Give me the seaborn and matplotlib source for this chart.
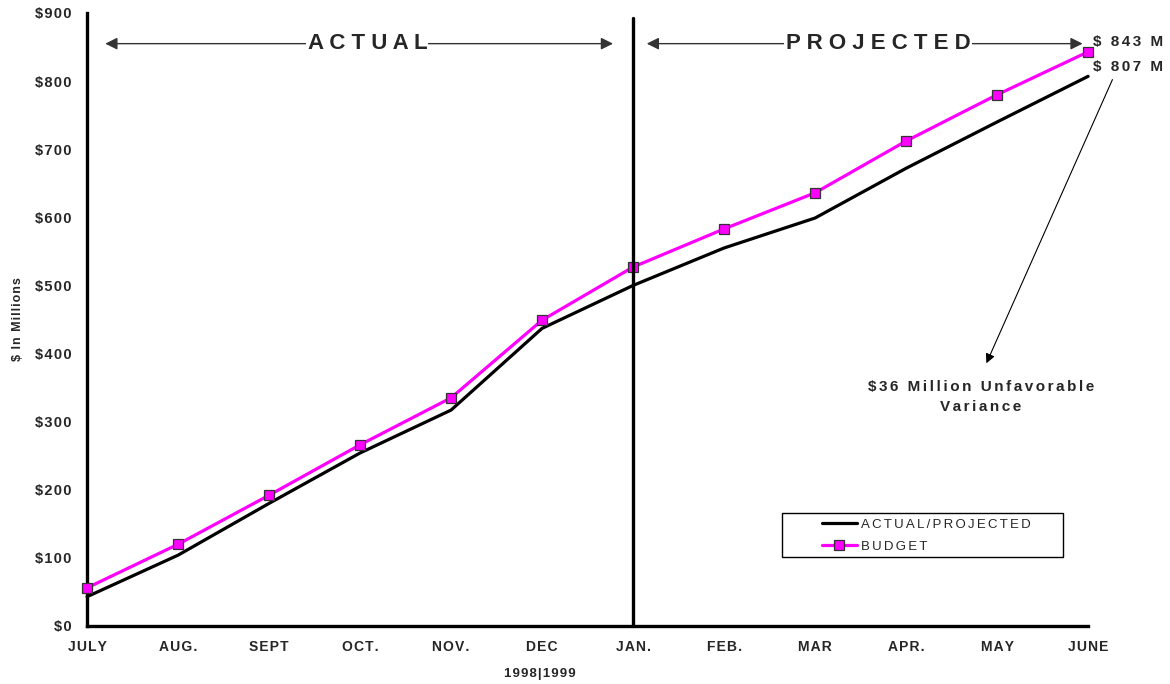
import matplotlib
matplotlib.use("Agg")
import matplotlib.pyplot as plt
from matplotlib.patches import Rectangle
import seaborn as sns
import pandas as pd

months = ["JULY", "AUG.", "SEPT", "OCT.", "NOV.", "DEC", "JAN.", "FEB.", "MAR", "APR.", "MAY", "JUNE"]
actual_projected = [43, 104, 180, 254, 317, 437, 500, 555, 599, 672, 740, 807]
budget = [56, 120, 192, 266, 335, 449, 527, 583, 636, 712, 780, 843]
y_ticks = [0, 100, 200, 300, 400, 500, 600, 700, 800, 900]
y_tick_labels = ["$0", "$100", "$200", "$300", "$400", "$500", "$600", "$700", "$800", "$900"]

sns.set_style("white")
plt.rcParams["font.family"] = ["Liberation Sans", "DejaVu Sans"]

HS = "\u200a"


def spaced(s, n=1):
    """Widen letter tracking with hair spaces."""
    return (HS * n).join(s)


df = pd.DataFrame({
    "idx": list(range(len(months))),
    "ACTUAL/PROJECTED": actual_projected,
    "BUDGET": budget,
})

fig = plt.figure(figsize=(11.7, 6.84), dpi=100)
ax = fig.add_axes([0.0744, 0.0848, 0.8556, 0.8962])

sns.lineplot(data=df, x="idx", y="ACTUAL/PROJECTED", ax=ax, color="black",
             linewidth=2.3, label=spaced("ACTUAL/PROJECTED", 2), zorder=3)
sns.lineplot(data=df, x="idx", y="BUDGET", ax=ax, color="#ff00ff",
             linewidth=2.3, marker="s", markersize=6.5, markerfacecolor="#ff00ff",
             markeredgecolor="#333333", markeredgewidth=0.9, label=spaced("BUDGET", 2), zorder=4)
for ln in ax.lines:
    ln.set_clip_on(False)

ax.set_xlim(0, len(months) - 1)
ax.set_ylim(0, 900)
ax.set_xticks(range(len(months)))
ax.set_xticklabels([spaced(m) for m in months], fontsize=10, fontweight="bold")
ax.set_yticks(y_ticks)
ax.set_yticklabels([spaced(t) for t in y_tick_labels], fontsize=10.5, fontweight="bold")
ax.tick_params(axis="x", direction="inout", length=8, width=2, pad=6)
ax.tick_params(axis="y", direction="in", length=5, width=2, pad=11)
for s in ["top", "right"]:
    ax.spines[s].set_visible(False)
for s in ["left", "bottom"]:
    ax.spines[s].set_linewidth(2.4)
    ax.spines[s].set_color("black")

ax.set_xlabel("")
ax.set_ylabel(spaced("$ In Millions"), fontsize=9, fontweight="bold", labelpad=8)
fig.text(540 / 1170, 1 - 674 / 684, spaced("1998|1999"), ha="center", va="center",
         fontsize=9.5, fontweight="bold")

# divider between actual and projected months
ax.plot([6, 6], [0, 893], color="black", linewidth=2.4, clip_on=False, zorder=5)

# period arrows
arrow_kw = dict(arrowstyle="<|-|>", color="#333333", lw=1.0, mutation_scale=18)
ax.annotate("", xy=(0.17, 855), xytext=(5.81, 855), arrowprops=arrow_kw)
ax.annotate("", xy=(6.12, 855), xytext=(10.97, 855), arrowprops=arrow_kw, annotation_clip=False)
ax.text(3.08, 855, "A C T U A L", ha="center", va="center", fontsize=16,
        fontweight="bold", bbox=dict(facecolor="white", edgecolor="none", pad=1), zorder=6)
ax.text(8.69, 855, "P R O J E C T E D", ha="center", va="center", fontsize=16,
        fontweight="bold", bbox=dict(facecolor="white", edgecolor="none", pad=1), zorder=6)

# end-point labels
ax.text(11.05, budget[-1] + 15, spaced(f"$ {budget[-1]} M", 2), ha="left", va="center",
        fontsize=11, fontweight="bold", clip_on=False)
ax.text(11.05, actual_projected[-1] + 13, spaced(f"$ {actual_projected[-1]} M", 2), ha="left",
        va="center", fontsize=11, fontweight="bold", clip_on=False)

# variance callout
variance = budget[-1] - actual_projected[-1]
ax.annotate("", xy=(9.87, 382), xytext=(11.28, 806),
            arrowprops=dict(arrowstyle="-|>", color="black", lw=0.8, mutation_scale=14),
            annotation_clip=False)
ax.text(9.82, 336, spaced(f"${variance} Million Unfavorable", 2) + "\n" + spaced("Variance", 2),
        ha="center", va="center", fontsize=11, fontweight="bold", linespacing=1.5)

# legend with a separate box frame
leg = ax.legend(loc="upper left", bbox_to_anchor=(819 / 1170, 1 - 515 / 684),
                bbox_transform=fig.transFigure, frameon=False, fontsize=9.5,
                handlelength=2.6, borderpad=0.25, labelspacing=0.75,
                handletextpad=0.35, borderaxespad=0)
frame = Rectangle((782 / 1170, 1 - 557 / 684), 281 / 1170, 44 / 684,
                  transform=fig.transFigure, facecolor="white",
                  edgecolor="black", linewidth=1.0, zorder=9, clip_on=False)
ax.add_patch(frame)
leg.set_zorder(10)

fig.savefig("out.png", dpi=100)
